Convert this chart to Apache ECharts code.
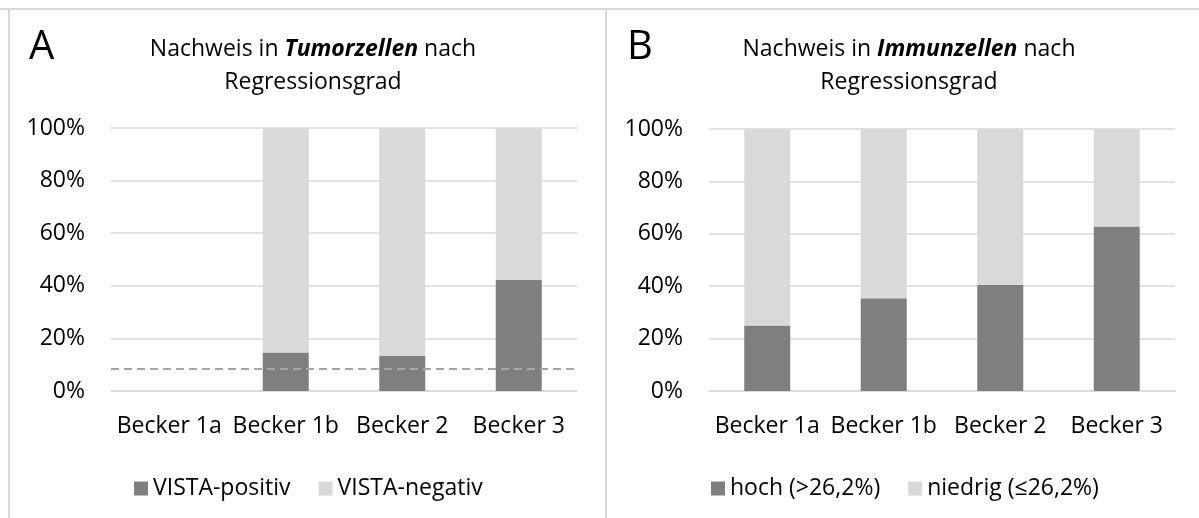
<!DOCTYPE html>
<html>
<head>
<meta charset="utf-8">
<script src="https://cdn.jsdelivr.net/npm/echarts@6/dist/echarts.min.js"></script>
<style>
html,body{margin:0;padding:0;background:#fff;}
#chart{width:1199px;height:518px;}
</style>
</head>
<body>
<div id="chart"></div>
<script>
// ---- data ----
const categories = ['Becker 1a', 'Becker 1b', 'Becker 2', 'Becker 3'];
// Panel A: Nachweis in Tumorzellen
const tumorPositiv = [null, 14.6, 13.3, 42.2];
const tumorNegativ = [null, 85.4, 86.7, 57.8];
const tumorThreshold = 8.6;
// Panel B: Nachweis in Immunzellen
const immunHoch = [25.0, 35.4, 40.6, 62.8];
const immunNiedrig = [75.0, 64.6, 59.4, 37.2];
const yTicks = [0, 20, 40, 60, 80, 100];

const FONT = 'Open Sans';
const DARK = '#7f7f7f';
const LIGHT = '#d9d9d9';
const GRIDC = '#d9d9d9';

const chart = echarts.init(document.getElementById('chart'), null, {renderer: 'canvas'});

function xAx(gi) {
  return {
    type: 'category', gridIndex: gi, data: categories,
    axisLine: {show: true, lineStyle: {color: GRIDC, width: 1.5}},
    axisTick: {show: false},
    axisLabel: {color: '#000', fontFamily: FONT, fontSize: 23, margin: 24, interval: 0}
  };
}
function yAx(gi) {
  return {
    type: 'value', gridIndex: gi, min: yTicks[0], max: yTicks[yTicks.length - 1], interval: 20,
    axisLine: {show: false}, axisTick: {show: false},
    splitLine: {lineStyle: {color: GRIDC, width: 1.5}},
    axisLabel: {color: '#000', fontFamily: FONT, fontSize: 23, margin: 26, formatter: '{value}%'}
  };
}

const option = {
  backgroundColor: '#fff',
  animation: false,
  title: [
    {
      text: 'Nachweis in {b|Tumorzellen} nach\nRegressionsgrad',
      left: 308, top: 28, textAlign: 'center',
      textStyle: {fontFamily: FONT, fontSize: 23, fontWeight: 'normal', color: '#000', lineHeight: 33,
        rich: {b: {fontFamily: FONT, fontSize: 23, fontWeight: 'bold', fontStyle: 'italic', color: '#000', lineHeight: 33}}}
    },
    {
      text: 'Nachweis in {b|Immunzellen} nach\nRegressionsgrad',
      left: 904, top: 28, textAlign: 'center',
      textStyle: {fontFamily: FONT, fontSize: 23, fontWeight: 'normal', color: '#000', lineHeight: 33,
        rich: {b: {fontFamily: FONT, fontSize: 23, fontWeight: 'bold', fontStyle: 'italic', color: '#000', lineHeight: 33}}}
    },
    {text: 'A', left: 24, top: 23, textStyle: {fontFamily: FONT, fontSize: 40, fontWeight: 'normal', color: '#000'}},
    {text: 'B', left: 622, top: 23, textStyle: {fontFamily: FONT, fontSize: 40, fontWeight: 'normal', color: '#000'}}
  ],
  legend: [
    {
      data: ['VISTA-positiv', 'VISTA-negativ'], left: 129, top: 472,
      icon: 'rect', itemWidth: 14, itemHeight: 14, itemGap: 28,
      textStyle: {fontFamily: FONT, fontSize: 23, color: '#000'}
    },
    {
      data: ['hoch (>26,2%)', 'niedrig (≤26,2%)'], left: 706, top: 472,
      icon: 'rect', itemWidth: 14, itemHeight: 14, itemGap: 28,
      textStyle: {fontFamily: FONT, fontSize: 23, color: '#000'}
    }
  ],
  grid: [
    {left: 111, top: 128, width: 466, height: 263, containLabel: false},
    {left: 709, top: 129, width: 466, height: 262, containLabel: false}
  ],
  xAxis: [xAx(0), xAx(1)],
  yAxis: [yAx(0), yAx(1)],
  series: [
    {
      name: 'VISTA-positiv', type: 'bar', stack: 'A', xAxisIndex: 0, yAxisIndex: 0,
      data: tumorPositiv, barWidth: 46, itemStyle: {color: DARK},
      markLine: {
        silent: true, symbol: ['none', 'none'], label: {show: false},
        lineStyle: {color: '#a6a6a6', type: [8, 5], width: 2},
        data: [{yAxis: tumorThreshold}]
      }
    },
    {
      name: 'VISTA-negativ', type: 'bar', stack: 'A', xAxisIndex: 0, yAxisIndex: 0,
      data: tumorNegativ, barWidth: 46, itemStyle: {color: LIGHT}
    },
    {
      name: 'hoch (>26,2%)', type: 'bar', stack: 'B', xAxisIndex: 1, yAxisIndex: 1,
      data: immunHoch, barWidth: 46, itemStyle: {color: DARK}
    },
    {
      name: 'niedrig (≤26,2%)', type: 'bar', stack: 'B', xAxisIndex: 1, yAxisIndex: 1,
      data: immunNiedrig, barWidth: 46, itemStyle: {color: LIGHT}
    }
  ],
  graphic: [
    {type: 'line', shape: {x1: 0, y1: 9, x2: 1199, y2: 9}, style: {stroke: '#d9d9d9', lineWidth: 2}, silent: true},
    {type: 'line', shape: {x1: 9, y1: 9, x2: 9, y2: 518}, style: {stroke: '#d9d9d9', lineWidth: 2}, silent: true},
    {type: 'line', shape: {x1: 606, y1: 9, x2: 606, y2: 518}, style: {stroke: '#d9d9d9', lineWidth: 2}, silent: true}
  ]
};
chart.setOption(option);
</script>
</body>
</html>
